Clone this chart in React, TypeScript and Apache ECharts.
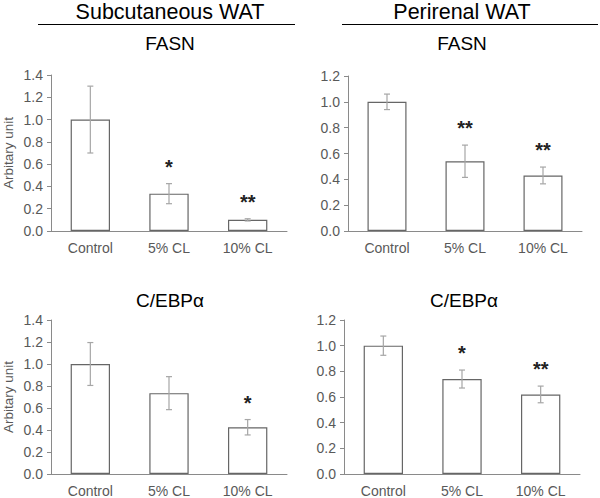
import React, { useEffect, useRef } from "react";
import * as echarts from "echarts";

const categories = ["Control", "5% CL", "10% CL"];

const subFasnValues = [1.0, 0.335, 0.1];
const subFasnErrors = [0.3, 0.09, 0.01];
const subFasnStars = ["", "*", "**"];

const periFasnValues = [1.0, 0.54, 0.43];
const periFasnErrors = [0.06, 0.125, 0.065];
const periFasnStars = ["", "**", "**"];

const subCebpValues = [1.0, 0.735, 0.425];
const subCebpErrors = [0.195, 0.15, 0.07];
const subCebpStars = ["", "", "*"];

const periCebpValues = [1.0, 0.74, 0.62];
const periCebpErrors = [0.075, 0.07, 0.065];
const periCebpStars = ["", "*", "**"];

const subYMax = 1.4;
const periYMax = 1.2;
const yInterval = 0.2;

const FONT = "'Liberation Sans', Arial, sans-serif";
const TEXT = "#595959";
const AXIS = "#8a8a8a";
const BAR_BORDER = "#666666";
const ERR = "#a6a6a6";

const panels = [
  { values: subFasnValues, errors: subFasnErrors, stars: subFasnStars, max: subYMax, grid: { left: 51, top: 75, width: 236, height: 156 }, yName: "Arbitary unit" },
  { values: periFasnValues, errors: periFasnErrors, stars: periFasnStars, max: periYMax, grid: { left: 348, top: 76, width: 234, height: 155 }, yName: "" },
  { values: subCebpValues, errors: subCebpErrors, stars: subCebpStars, max: subYMax, grid: { left: 51, top: 320, width: 236, height: 155 }, yName: "Arbitary unit" },
  { values: periCebpValues, errors: periCebpErrors, stars: periCebpStars, max: periYMax, grid: { left: 344, top: 320, width: 236, height: 155 }, yName: "" },
];

export default function App() {
  const ref = useRef<HTMLDivElement>(null);
  useEffect(() => {
    if (!ref.current) return;
    const chart = echarts.init(ref.current, undefined, { renderer: "svg" });
    const grid: any[] = [];
    const xAxis: any[] = [];
    const yAxis: any[] = [];
    const series: any[] = [];
    panels.forEach((p, i) => {
      grid.push({ ...p.grid, containLabel: false });
      xAxis.push({
        type: "category",
        gridIndex: i,
        data: categories,
        axisLine: { lineStyle: { color: AXIS, width: 1 } },
        axisTick: { show: false },
        axisLabel: { color: TEXT, fontSize: 14, fontFamily: FONT, margin: 10 },
      });
      yAxis.push({
        type: "value",
        gridIndex: i,
        min: 0,
        max: p.max,
        interval: yInterval,
        splitLine: { show: false },
        axisLine: { show: true, lineStyle: { color: AXIS, width: 1 } },
        axisTick: { show: true, length: 4, lineStyle: { color: AXIS } },
        axisLabel: { color: TEXT, fontSize: 14, fontFamily: FONT, margin: 8, formatter: (v: number) => v.toFixed(1) },
        name: p.yName,
        nameLocation: "middle",
        nameGap: 36,
        nameTextStyle: { color: TEXT, fontSize: 13.5, fontFamily: FONT },
      });
      series.push({
        type: "bar",
        xAxisIndex: i,
        yAxisIndex: i,
        barWidth: "50%",
        data: p.values,
        itemStyle: { color: "#ffffff", borderColor: BAR_BORDER, borderWidth: 1.2 },
        silent: true,
      });
      series.push({
        type: "custom",
        xAxisIndex: i,
        yAxisIndex: i,
        silent: true,
        z: 5,
        data: p.values.map((v, k) => [k, v, p.errors[k]]),
        renderItem: (params: any, api: any) => {
          const k = api.value(0);
          const v = api.value(1);
          const e = api.value(2);
          const top = api.coord([k, v + e]);
          const bot = api.coord([k, v - e]);
          const cap = 3;
          const children: any[] = [
            { type: "line", shape: { x1: top[0], y1: top[1], x2: bot[0], y2: bot[1] }, style: { stroke: ERR, lineWidth: 1.2 } },
            { type: "line", shape: { x1: top[0] - cap, y1: top[1], x2: top[0] + cap, y2: top[1] }, style: { stroke: ERR, lineWidth: 1.2 } },
            { type: "line", shape: { x1: bot[0] - cap, y1: bot[1], x2: bot[0] + cap, y2: bot[1] }, style: { stroke: ERR, lineWidth: 1.2 } },
          ];
          const s = p.stars[k];
          if (s) {
            children.push({
              type: "text",
              style: {
                text: s,
                x: top[0],
                y: top[1] - 17,
                align: "center",
                verticalAlign: "middle",
                fill: "#222222",
                font: `bold 20px ${FONT}`,
              },
            });
          }
          return { type: "group", children };
        },
      });
    });

    const titleStyle = (text: string, x: number, y: number, size: number) => ({
      type: "text",
      x,
      y,
      style: { text, align: "center", verticalAlign: "middle", fill: "#000000", font: `${size}px ${FONT}` },
    });

    chart.setOption({
      animation: false,
      backgroundColor: "#ffffff",
      grid,
      xAxis,
      yAxis,
      series,
      graphic: [
        titleStyle("Subcutaneous WAT", 170, 12, 21.5),
        titleStyle("Perirenal WAT", 462, 12, 21.5),
        { type: "line", shape: { x1: 38, y1: 24.5, x2: 295, y2: 24.5 }, style: { stroke: "#000", lineWidth: 1.2 } },
        { type: "line", shape: { x1: 342, y1: 24.5, x2: 598, y2: 24.5 }, style: { stroke: "#000", lineWidth: 1.2 } },
        titleStyle("FASN", 170, 43, 19),
        titleStyle("FASN", 462, 43, 19),
        titleStyle("C/EBPα", 170, 300, 19),
        titleStyle("C/EBPα", 464, 300, 19),
      ],
    });
    return () => chart.dispose();
  }, []);
  return <div ref={ref} style={{ width: 600, height: 498, position: "absolute", left: 0, top: 0 }} />;
}
